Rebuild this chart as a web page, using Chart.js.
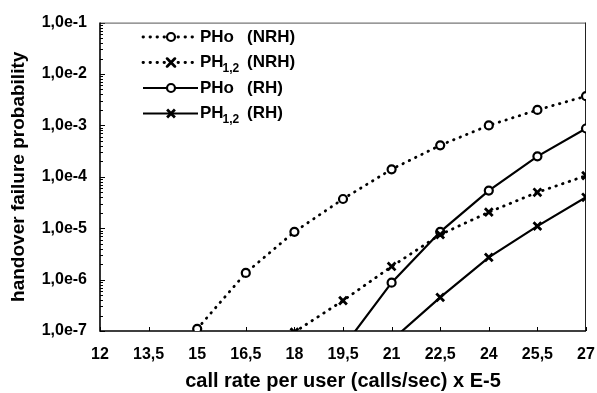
<!DOCTYPE html>
<html>
<head>
<meta charset="utf-8">
<script src="https://cdn.jsdelivr.net/npm/chart.js@4"></script>
<style>
  html, body { margin: 0; padding: 0; background: #fff; }
  #wrap { width: 597px; height: 393px; }
</style>
</head>
<body>
<div id="wrap"><canvas id="c"></canvas></div>
<script>
// call rate per user (calls/sec) x E-5
const callRates = [12, 13.5, 15, 16.5, 18, 19.5, 21, 22.5, 24, 25.5, 27];
const phoNrh  = [null, null, 1.1e-7, 1.35e-6, 8.5e-6, 3.7e-5, 1.4e-4, 4.1e-4, 1.0e-3, 2.0e-3, 3.7e-3];
const ph12Nrh = [null, null, null, null, 9.5e-8, 3.9e-7, 1.8e-6, 7.5e-6, 2.05e-5, 5.0e-5, 1.05e-4];
const phoRh   = [null, null, null, null, null, 4.8e-8, 8.7e-7, 8.5e-6, 5.4e-5, 2.5e-4, 8.7e-4];
const ph12Rh  = [null, null, null, null, null, null, 6.6e-8, 4.5e-7, 2.7e-6, 1.1e-5, 4.0e-5];
const yTicks = [1e-7, 1e-6, 1e-5, 1e-4, 1e-3, 1e-2, 1e-1];

const FONT = '"Liberation Sans", Arial, sans-serif';
const DOTS = [0.5, 6.5];

function pts(vals) {
  const out = [];
  vals.forEach((v, i) => { if (v != null) out.push({ x: callRates[i], y: v }); });
  return out;
}

function series(label, vals, dotted, marker) {
  return {
    label,
    data: pts(vals),
    borderColor: '#000',
    borderWidth: dotted ? 2.8 : 2.2,
    borderDash: dotted ? DOTS : [],
    borderCapStyle: dotted ? 'round' : 'butt',
    pointStyle: marker,
    pointRadius: marker === 'circle' ? 4 : 5.5,
    pointBorderWidth: marker === 'circle' ? 2.2 : 2.8,
    pointBackgroundColor: '#fff',
    pointBorderColor: '#000',
    tension: 0,
  };
}

const legendRows = [
  { name: 'PH', sub: '', tail: 'o', tag: '(NRH)', dash: DOTS, width: 2.8, marker: 'circle' },
  { name: 'PH', sub: '1,2', tail: '', tag: '(NRH)', dash: DOTS, width: 2.8, marker: 'crossRot' },
  { name: 'PH', sub: '', tail: 'o', tag: '(RH)', dash: [], width: 2.2, marker: 'circle' },
  { name: 'PH', sub: '1,2', tail: '', tag: '(RH)', dash: [], width: 2.2, marker: 'crossRot' },
];

const framePlugin = {
  id: 'frame',
  beforeDatasetsDraw(chart) {
    const { ctx, chartArea: a, scales } = chart;
    ctx.save();
    ctx.strokeStyle = '#000';
    ctx.lineWidth = 1;
    // y ticks, inward
    for (let e = -7; e < -1; e++) {
      for (let m = 1; m <= 10; m++) {
        const y = Math.round(scales.y.getPixelForValue(m * Math.pow(10, e))) + 0.5;
        const len = (m === 1 || m === 10) ? 5 : 3;
        ctx.beginPath(); ctx.moveTo(a.left, y); ctx.lineTo(a.left + len, y); ctx.stroke();
      }
    }
    // x ticks, inward
    callRates.forEach(v => {
      const x = Math.round(scales.x.getPixelForValue(v)) + 0.5;
      ctx.beginPath(); ctx.moveTo(x, a.bottom); ctx.lineTo(x, a.bottom - 4); ctx.stroke();
    });
    // box
    ctx.lineWidth = 1;
    ctx.strokeStyle = '#555';
    ctx.beginPath(); ctx.moveTo(a.left, a.top + 0.5); ctx.lineTo(a.right, a.top + 0.5); ctx.stroke();
    ctx.strokeStyle = '#222';
    ctx.beginPath(); ctx.moveTo(a.right - 0.5, a.top); ctx.lineTo(a.right - 0.5, a.bottom); ctx.stroke();
    ctx.strokeStyle = '#000';
    ctx.lineWidth = 1.6;
    ctx.beginPath(); ctx.moveTo(a.left, a.top); ctx.lineTo(a.left, a.bottom); ctx.lineTo(a.right, a.bottom); ctx.stroke();
    ctx.restore();
  },
  afterDraw(chart) {
    const { ctx } = chart;
    ctx.save();
    legendRows.forEach((r, i) => {
      const y = 37 + i * 25.5;
      ctx.strokeStyle = '#000';
      ctx.lineWidth = r.width;
      ctx.setLineDash(r.dash);
      ctx.lineCap = r.dash.length ? 'round' : 'butt';
      ctx.beginPath(); ctx.moveTo(143, y); ctx.lineTo(198, y); ctx.stroke();
      ctx.setLineDash([]);
      const isCircle = r.marker === 'circle';
      ctx.lineWidth = isCircle ? 2.2 : 2.8;
      ctx.fillStyle = '#fff';
      Chart.helpers.drawPoint(ctx, { pointStyle: r.marker, radius: isCircle ? 4 : 5.5, rotation: 0, borderWidth: ctx.lineWidth }, 171, y);
      ctx.fillStyle = '#000';
      ctx.textBaseline = 'middle';
      ctx.textAlign = 'left';
      ctx.font = 'bold 17px ' + FONT;
      let x = 200;
      ctx.fillText(r.name, x, y);
      x += ctx.measureText(r.name).width;
      if (r.sub) {
        ctx.font = 'bold 12px ' + FONT;
        ctx.fillText(r.sub, x - 1, y + 6);
        ctx.font = 'bold 17px ' + FONT;
      }
      ctx.fillText(r.tail, x, y);
      ctx.fillText(r.tag, 247, y);
    });
    ctx.restore();
  },
};

new Chart(document.getElementById('c'), {
  type: 'line',
  data: {
    datasets: [
      series('PHo (NRH)', phoNrh, true, 'circle'),
      series('PH1,2 (NRH)', ph12Nrh, true, 'crossRot'),
      series('PHo (RH)', phoRh, false, 'circle'),
      series('PH1,2 (RH)', ph12Rh, false, 'crossRot'),
    ],
  },
  options: {
    responsive: true,
    maintainAspectRatio: false,
    animation: false,
    layout: { padding: { top: 17, right: 11, left: 4, bottom: 0 } },
    plugins: { legend: { display: false }, tooltip: { enabled: false } },
    scales: {
      x: {
        type: 'linear',
        min: 12,
        max: 27,
        afterBuildTicks: s => { s.ticks = callRates.map(v => ({ value: v })); },
        afterFit: s => { s.height = 62; s.paddingRight = 9; s.paddingLeft = 0; },
        grid: { display: false, drawTicks: true, tickLength: 12 },
        border: { display: false },
        ticks: {
          color: '#000',
          padding: 2,
          maxRotation: 0,
          font: { family: FONT, size: 16, weight: 'bold' },
          callback: v => String(v).replace('.', ','),
        },
        title: {
          display: true,
          text: 'call rate per user (calls/sec) x E-5',
          color: '#000',
          padding: { top: 0, bottom: 0 },
          font: { family: FONT, size: 20, weight: 'bold' },
        },
      },
      y: {
        type: 'logarithmic',
        min: 1e-7,
        max: 1e-1,
        afterBuildTicks: s => { s.ticks = yTicks.map(v => ({ value: v, major: true })); },
        afterFit: s => { s.width = 96; },
        grid: { display: false, drawTicks: false },
        border: { display: false },
        ticks: {
          color: '#000',
          padding: 13,
          font: { family: FONT, size: 16, weight: 'bold' },
          callback: v => '1,0e' + Math.round(Math.log10(v)),
        },
        title: {
          display: true,
          text: 'handover failure probability',
          color: '#000',
          padding: { top: 3, bottom: 4 },
          font: { family: FONT, size: 19, weight: 'bold' },
        },
      },
    },
  },
  plugins: [framePlugin],
});
</script>
</body>
</html>
